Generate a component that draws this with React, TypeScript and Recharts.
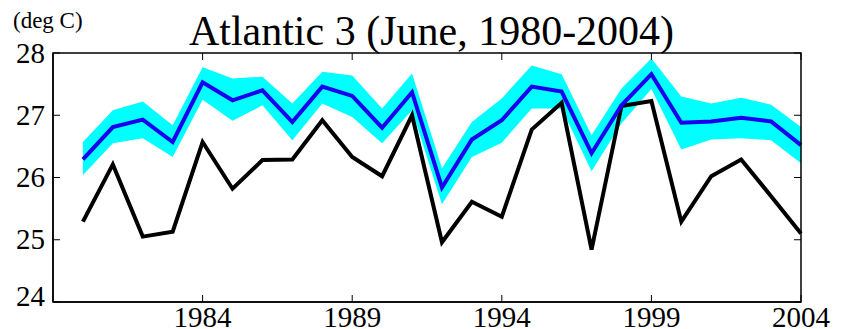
import { Area, ComposedChart, Line, XAxis, YAxis } from "recharts";

// June SST, Atlantic region 3
const years = [
  1980, 1981, 1982, 1983, 1984, 1985, 1986, 1987, 1988, 1989, 1990, 1991, 1992,
  1993, 1994, 1995, 1996, 1997, 1998, 1999, 2000, 2001, 2002, 2003, 2004,
];
const observed = [
  25.29, 26.21, 25.05, 25.13, 26.57, 25.82, 26.28, 26.29, 26.92, 26.33, 26.02,
  27.0, 24.96, 25.61, 25.37, 26.77, 27.2, 24.84, 27.15, 27.23, 25.29, 26.02,
  26.29, 25.7, 25.1,
];
const ensembleMean = [
  26.29, 26.81, 26.93, 26.57, 27.53, 27.24, 27.4, 26.89, 27.46, 27.31, 26.8,
  27.37, 25.84, 26.61, 26.92, 27.46, 27.38, 26.39, 27.16, 27.66, 26.88, 26.9,
  26.96, 26.9, 26.52,
];
const spreadLow = [
  26.04, 26.55, 26.63, 26.33, 27.25, 26.91, 27.16, 26.6, 27.19, 26.97, 26.55,
  27.08, 25.57, 26.33, 26.56, 27.11, 27.11, 26.1, 26.87, 27.42, 26.45, 26.61,
  26.63, 26.6, 26.23,
];
const spreadHigh = [
  26.57, 27.08, 27.22, 26.84, 27.77, 27.59, 27.62, 27.19, 27.7, 27.64, 27.11,
  27.67, 26.15, 26.89, 27.27, 27.8, 27.66, 26.68, 27.43, 27.91, 27.3, 27.19,
  27.28, 27.17, 26.81,
];
const xTicks = [1984, 1989, 1994, 1999, 2004];
const yTicks = [24, 25, 26, 27, 28];

const data = years.map((year, i) => ({
  year,
  obs: observed[i],
  mean: ensembleMean[i],
  band: [spreadLow[i], spreadHigh[i]],
}));

const font = "'Liberation Serif', 'Times New Roman', serif";
const W = 836;
const H = 321;
const M = { top: 45, right: 43, left: 0, bottom: 0 };
const XH = 27;
const YW = 45;
const plotW = W - M.left - M.right - YW;
const plotH = H - M.top - M.bottom - XH;
const TL = 7;

// bottom tick + its mirror on the top edge
const BottomTick = ({ x, y, payload }: any) => (
  <g>
    <line x1={x} x2={x} y1={y} y2={y - TL} stroke="#000" strokeWidth={1} />
    <line x1={x} x2={x} y1={y - plotH} y2={y - plotH + TL} stroke="#000" strokeWidth={1} />
    <text x={x} y={y + 24.5} textAnchor="middle" fontFamily={font} fontSize={29} fill="#000">
      {payload.value}
    </text>
  </g>
);

// left tick + its mirror on the right edge
const LeftTick = ({ x, y, payload }: any) => {
  const v = payload.value;
  return (
    <g>
      <line x1={x} x2={x + TL} y1={y} y2={y} stroke="#000" strokeWidth={1} />
      <line x1={x + plotW} x2={x + plotW - TL} y1={y} y2={y} stroke="#000" strokeWidth={1} />
      <text
        x={x - 8}
        y={y + (v === 24 ? 3.5 : 9.5)}
        textAnchor="end"
        fontFamily={font}
        fontSize={29}
        fill="#000"
      >
        {v}
      </text>
    </g>
  );
};

export default function App() {
  return (
    <div style={{ position: "relative", width: W, height: H }}>
      <ComposedChart width={W} height={H} data={data} margin={M}>
        <XAxis
          dataKey="year"
          type="number"
          domain={[1979, 2004]}
          ticks={xTicks}
          height={XH}
          tickSize={0}
          tickMargin={0}
          tickLine={false}
          axisLine={{ stroke: "#000", strokeWidth: 1.5 }}
          tick={<BottomTick />}
          interval={0}
        />
        <YAxis
          domain={[24, 28]}
          ticks={yTicks}
          width={YW}
          tickSize={0}
          tickMargin={0}
          tickLine={false}
          axisLine={{ stroke: "#000", strokeWidth: 1.5 }}
          tick={<LeftTick />}
          interval={0}
        />
        <Line
          dataKey="obs"
          stroke="#000"
          strokeWidth={4}
          dot={false}
          isAnimationActive={false}
        />
        <Area
          dataKey="band"
          stroke="none"
          fill="#00ffff"
          fillOpacity={1}
          isAnimationActive={false}
        />
        <Line
          dataKey="mean"
          stroke="#1a00ee"
          strokeWidth={4}
          dot={false}
          isAnimationActive={false}
        />
      </ComposedChart>
      <svg
        width={W}
        height={H}
        style={{ position: "absolute", left: 0, top: 0, pointerEvents: "none" }}
      >
        {/* axes box */}
        <rect
          x={M.left + YW}
          y={M.top}
          width={plotW}
          height={plotH}
          fill="none"
          stroke="#000"
          strokeWidth={1.5}
        />
        <text x={423.5} y={37} textAnchor="middle" fontFamily={font} fontSize={42} fill="#000">
          Atlantic 3 (June, 1980-2004)
        </text>
        <text x={5} y={20} fontFamily={font} fontSize={23} fill="#000">
          (deg C)
        </text>
      </svg>
    </div>
  );
}
